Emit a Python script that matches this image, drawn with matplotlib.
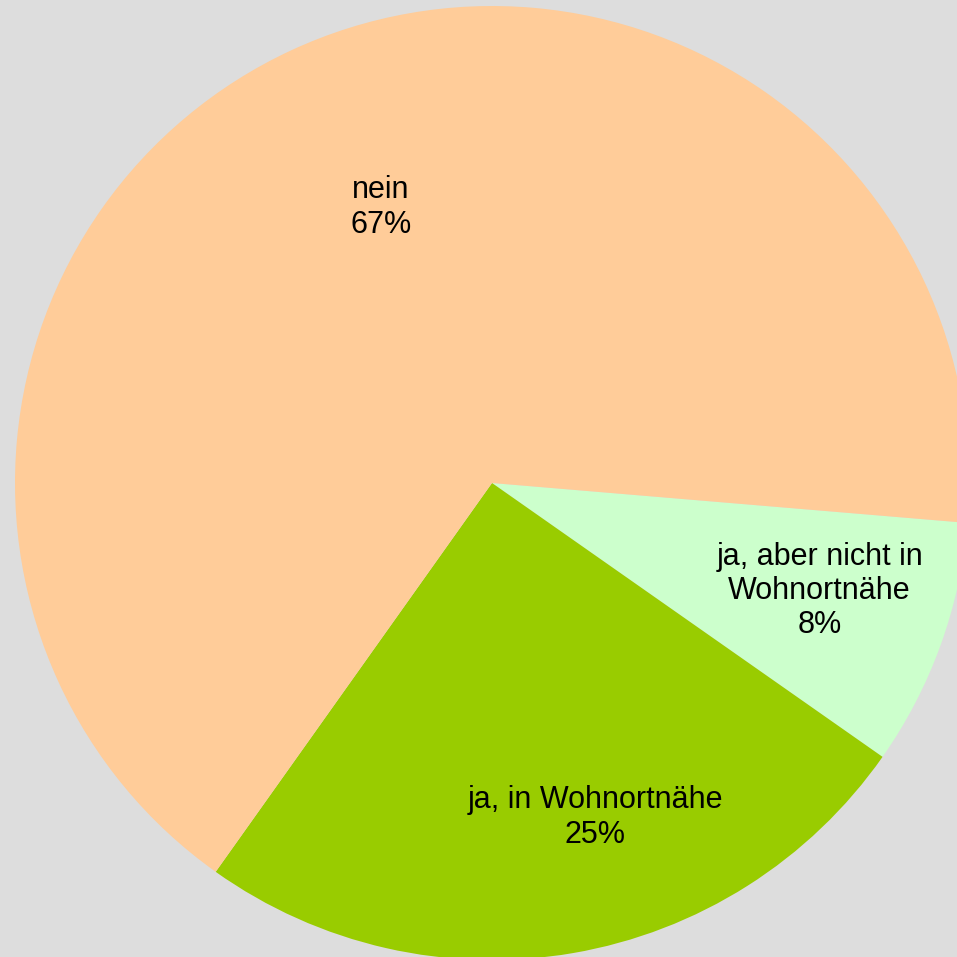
import numpy as np
import matplotlib.pyplot as plt

plt.rcParams['font.family'] = ['Liberation Sans', 'DejaVu Sans']

# slices, clockwise from the right
labels = ["ja, aber nicht in\nWohnortnähe", "ja, in Wohnortnähe", "nein"]
shares = [8.4, 25.1, 66.5]
pct_text = ["8%", "25%", "67%"]
colors = ["#CCFFCC", "#99CC00", "#FFCC99"]
# label placement: radius fraction and angle nudge (deg) from the wedge middle
label_r = [0.723, 0.734, 0.623]
label_nudge = [1.7, 7.4, -2.9]

W = 957
cx, cy, R = 492, 483, 477

fig = plt.figure(figsize=(W / 100, W / 100), dpi=100, facecolor="#DDDDDD")
ax = fig.add_axes([0, 0, 1, 1])
ax.set_facecolor("#DDDDDD")

wedges, _ = ax.pie(shares, colors=colors, startangle=-4.8, counterclock=False,
                   radius=1, wedgeprops=dict(linewidth=0))

for w, lab, pct, r, dn in zip(wedges, labels, pct_text, label_r, label_nudge):
    mid = np.deg2rad((w.theta1 + w.theta2) / 2 + dn)
    ax.text(r * np.cos(mid), r * np.sin(mid), lab + "\n" + pct,
            ha="center", va="center", fontsize=22, linespacing=1.18)

ax.set_xlim(-cx / R, (W - cx) / R)
ax.set_ylim(-(W - cy) / R, cy / R)
ax.set_aspect("equal", adjustable="datalim")
ax.axis("off")

fig.savefig("out.png", dpi=100, facecolor="#DDDDDD")
